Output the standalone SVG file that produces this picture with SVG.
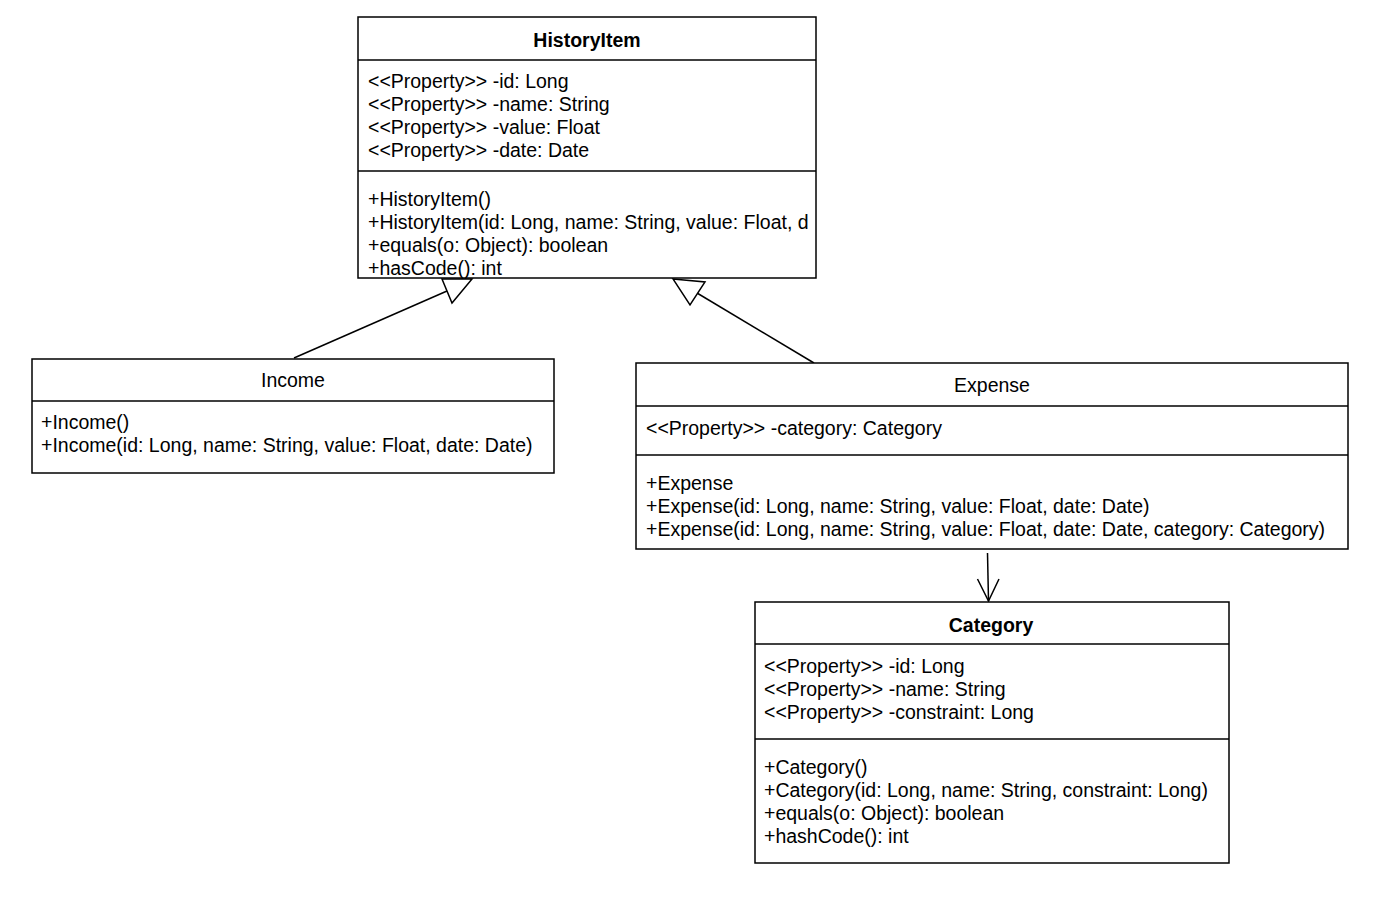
<svg xmlns="http://www.w3.org/2000/svg" width="1380" height="903" viewBox="0 0 1380 903">
<style>
.box{fill:#fff;stroke:#000;stroke-width:1.5}
.sep{stroke:#000;stroke-width:1.5}
text{font-family:"Liberation Sans",Arial,sans-serif;font-size:19.5px;fill:#000}
.t{text-anchor:middle}
.b{font-weight:bold}
.edge{fill:none;stroke:#000;stroke-width:1.5}
.tri{fill:#fff;stroke:#000;stroke-width:1.5}
</style>
<rect width="1380" height="903" fill="#fff"/>
<g id="connectors">
<line class="edge" x1="294" y1="358" x2="447" y2="291"/>
<polygon class="tri" points="442,279 472,279 452,303"/>
<line class="edge" x1="814" y1="363" x2="697" y2="293"/>
<polygon class="tri" points="673,279 705,282 690,305"/>
<line class="edge" x1="987.5" y1="553" x2="988.5" y2="601"/>
<polyline class="edge" points="977.5,579 988.5,601 999,579"/>
</g>
<g id="HistoryItem">
<rect class="box" x="358" y="17" width="458" height="261"/>
<line class="sep" x1="358" y1="60" x2="816" y2="60"/>
<line class="sep" x1="358" y1="171" x2="816" y2="171"/>
<text class="t b" x="587" y="47">HistoryItem</text>
<text x="368" y="88">&lt;&lt;Property&gt;&gt; -id: Long</text>
<text x="368" y="111">&lt;&lt;Property&gt;&gt; -name: String</text>
<text x="368" y="134">&lt;&lt;Property&gt;&gt; -value: Float</text>
<text x="368" y="157">&lt;&lt;Property&gt;&gt; -date: Date</text>
<text x="368" y="206">+HistoryItem()</text>
<text x="368" y="229">+HistoryItem(id: Long, name: String, value: Float, d</text>
<text x="368" y="252">+equals(o: Object): boolean</text>
<text x="368" y="275">+hasCode(): int</text>
</g>
<g id="Income">
<rect class="box" x="32" y="359" width="522" height="114"/>
<line class="sep" x1="32" y1="401" x2="554" y2="401"/>
<text class="t" x="293" y="387">Income</text>
<text x="41" y="429">+Income()</text>
<text x="41" y="452">+Income(id: Long, name: String, value: Float, date: Date)</text>
</g>
<g id="Expense">
<rect class="box" x="636" y="363" width="712" height="186"/>
<line class="sep" x1="636" y1="406" x2="1348" y2="406"/>
<line class="sep" x1="636" y1="455" x2="1348" y2="455"/>
<text class="t" x="992" y="392">Expense</text>
<text x="646" y="435">&lt;&lt;Property&gt;&gt; -category: Category</text>
<text x="646" y="490">+Expense</text>
<text x="646" y="513">+Expense(id: Long, name: String, value: Float, date: Date)</text>
<text x="646" y="536">+Expense(id: Long, name: String, value: Float, date: Date, category: Category)</text>
</g>
<g id="Category">
<rect class="box" x="755" y="602" width="474" height="261"/>
<line class="sep" x1="755" y1="644" x2="1229" y2="644"/>
<line class="sep" x1="755" y1="739" x2="1229" y2="739"/>
<text class="t b" x="991" y="632">Category</text>
<text x="764" y="673">&lt;&lt;Property&gt;&gt; -id: Long</text>
<text x="764" y="696">&lt;&lt;Property&gt;&gt; -name: String</text>
<text x="764" y="719">&lt;&lt;Property&gt;&gt; -constraint: Long</text>
<text x="764" y="774">+Category()</text>
<text x="764" y="797">+Category(id: Long, name: String, constraint: Long)</text>
<text x="764" y="820">+equals(o: Object): boolean</text>
<text x="764" y="843">+hashCode(): int</text>
</g>
</svg>
